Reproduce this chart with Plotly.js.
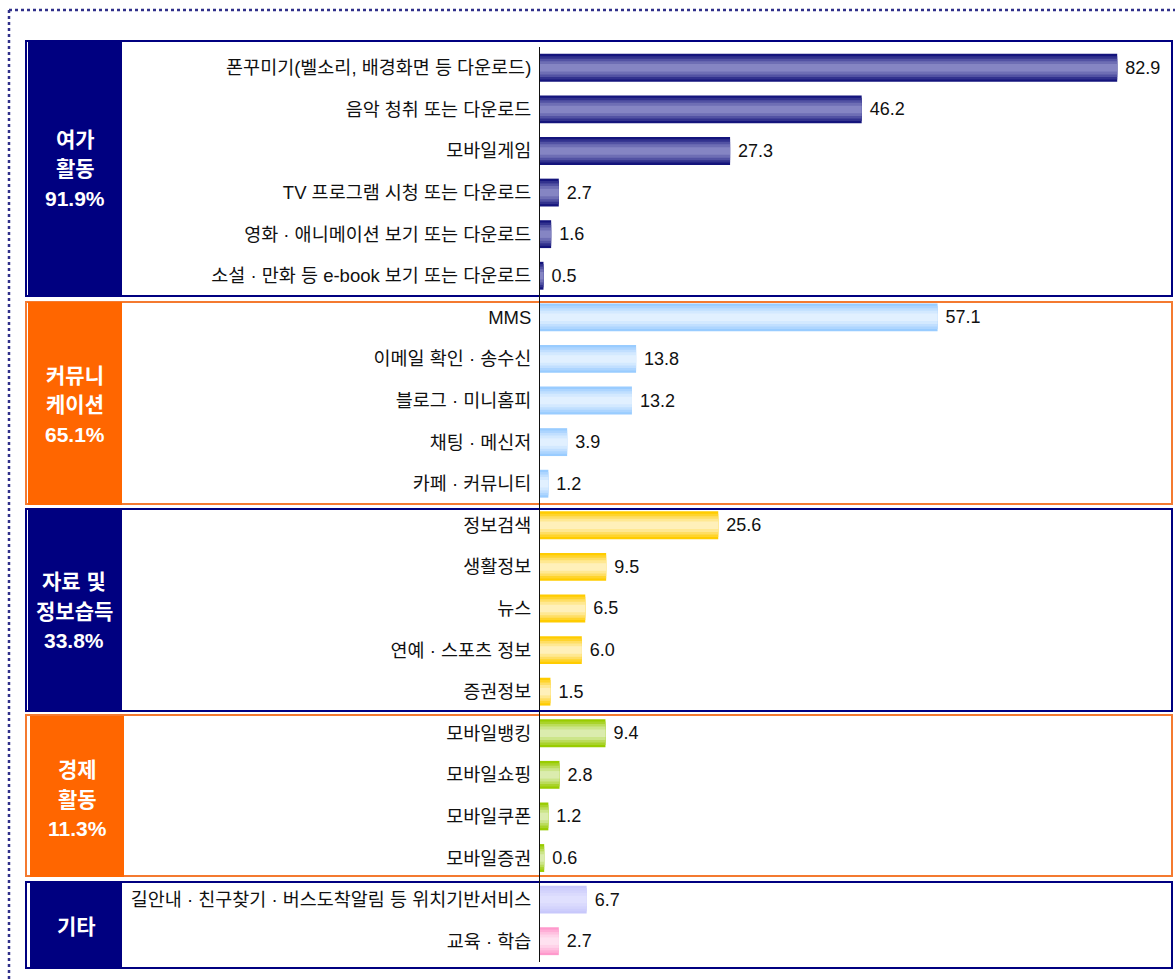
<!DOCTYPE html>
<html>
<head>
<meta charset="utf-8">
<script src="https://cdn.plot.ly/plotly-3.0.1.min.js"></script>
<style>html,body{margin:0;padding:0;background:#fff;}#chart{width:1175px;height:979px;}</style>
</head>
<body>
<div id="chart"></div>
<script>
// ---- data ----
const categories = [
  "폰꾸미기(벨소리, 배경화면 등 다운로드)",
  "음악 청취 또는 다운로드",
  "모바일게임",
  "TV 프로그램 시청 또는 다운로드",
  "영화 · 애니메이션 보기 또는 다운로드",
  "소설 · 만화 등 e-book 보기 또는 다운로드",
  "MMS",
  "이메일 확인 · 송수신",
  "블로그 · 미니홈피",
  "채팅 · 메신저",
  "카페 · 커뮤니티",
  "정보검색",
  "생활정보",
  "뉴스",
  "연예 · 스포츠 정보",
  "증권정보",
  "모바일뱅킹",
  "모바일쇼핑",
  "모바일쿠폰",
  "모바일증권",
  "길안내 · 친구찾기 · 버스도착알림 등 위치기반서비스",
  "교육 · 학습"
];
const values = [82.9, 46.2, 27.3, 2.7, 1.6, 0.5, 57.1, 13.8, 13.2, 3.9, 1.2, 25.6, 9.5, 6.5, 6.0, 1.5, 9.4, 2.8, 1.2, 0.6, 6.7, 2.7];
const groupOf = [0,0,0,0,0,0, 1,1,1,1,1, 2,2,2,2,2, 3,3,3,3, 4,4];
const groupNames = ["여가 활동", "커뮤니케이션", "자료 및 정보습득", "경제 활동", "기타"];
const groupLabelLines = [["여가","활동","91.9%"], ["커뮤니","케이션","65.1%"], ["자료 및","정보습득","33.8%"], ["경제","활동","11.3%"], ["기타"]];

// ---- styles ----
const barStyle = ["navy","navy","navy","navy","navy","navy","blue","blue","blue","blue","blue",
  "yellow","yellow","yellow","yellow","yellow","green","green","green","green","lavender","pink"];
const palettes = {
  navy:     ['#14147c','#32328e','#5252a3','#6e6eb4','#8585c3'],
  blue:     ['#99ccff','#add5ff','#c1dfff','#d3e9ff','#e1f0ff'],
  yellow:   ['#ffcc00','#ffd42c','#ffde63','#ffe892','#fff0ba'],
  green:    ['#99cc00','#a9d32a','#bbdc5a','#cce58a','#dbecae'],
  lavender: ['#c8c8fb','#cecefc','#d4d4fc','#dadafd','#e0e0fe'],
  pink:     ['#ff99cc','#ffadd6','#ffc1e0','#ffd3e9','#ffe1f0']
};
const layerWidths = [0.67, 0.56, 0.44, 0.32, 0.18];
const groupColors = ['#000080','#ff6600','#000080','#ff6600','#000080'];
const borderColors = ['#000080','#f47a30','#000080','#f47a30','#000080'];
// group frames in page pixels (decoration)
const frames = [
  {top:41, bottom:296, fx0:28, fx1:122, fy0:42, fy1:297, cx:75, cy:169},
  {top:302, bottom:504, fx0:28, fx1:122, fy0:302, fy1:505, cx:75, cy:405},
  {top:509, bottom:711, fx0:28, fx1:122, fy0:509, fy1:712, cx:74, cy:611},
  {top:715, bottom:876, fx0:30, fx1:124, fy0:716, fy1:877, cx:77, cy:799},
  {top:882, bottom:968, fx0:30, fx1:122, fy0:883, fy1:969, cx:76, cy:926}
];

const W = 1175, H = 979;
const M = {l:540, r:3, t:47, b:17};
const PW = W - M.l - M.r, PH = H - M.t - M.b;
const px = x => (x - M.l) / PW;
const py = y => 1 - (y - M.t) / PH;

const fontFam = 'Liberation Sans, "Noto Sans CJK KR", sans-serif';

const traces = layerWidths.map((w, li) => ({
  type: 'bar',
  orientation: 'h',
  y: categories,
  x: values,
  width: w,
  marker: {color: barStyle.map(s => palettes[s][li]), line: {width: 0}},
  text: li === 0 ? values.map(v => v.toFixed(1)) : undefined,
  texttemplate: li === 0 ? '\u00a0%{text}' : undefined,
  textposition: li === 0 ? 'outside' : 'none',
  textfont: {family: fontFam, size: 18, color: '#111'},
  cliponaxis: false,
  hoverinfo: 'skip',
  showlegend: false
}));

const shapes = [];
// outer dotted frame
shapes.push({type:'line', xref:'paper', yref:'paper', x0:px(9), x1:px(1175), y0:py(10), y1:py(10), line:{color:'#30308a', width:2.5, dash:'dot'}});
shapes.push({type:'line', xref:'paper', yref:'paper', x0:px(9), x1:px(9), y0:py(10), y1:py(979), line:{color:'#30308a', width:2.5, dash:'dot'}});
frames.forEach((f, i) => {
  shapes.push({type:'rect', xref:'paper', yref:'paper', x0:px(26), x1:px(1172), y0:py(f.top), y1:py(f.bottom),
    line:{color:borderColors[i], width:2}, fillcolor:'rgba(0,0,0,0)', layer:'below'});
});
frames.forEach((f, i) => {
  shapes.push({type:'rect', xref:'paper', yref:'paper', x0:px(f.fx0), x1:px(f.fx1), y0:py(f.fy0), y1:py(f.fy1),
    line:{width:0}, fillcolor:groupColors[i], layer:'above'});
});

const annotations = [];
frames.forEach((f, i) => {
  const lines = groupLabelLines[i];
  const sp = 29.5;
  lines.forEach((t, k) => {
    const y = f.cy + (k - (lines.length - 1) / 2) * sp;
    annotations.push({xref:'paper', yref:'paper', x:px(f.cx), y:py(y), xanchor:'center', yanchor:'middle',
      text:t, showarrow:false, font:{family:fontFam, size:21, color:'#fff', weight:700}});
  });
});

const layout = {
  width: W, height: H,
  margin: M,
  paper_bgcolor: '#fff',
  plot_bgcolor: 'rgba(0,0,0,0)',
  barmode: 'overlay',
  showlegend: false,
  font: {family: fontFam},
  xaxis: {range:[0, 90.77], showgrid:false, zeroline:false, showline:false, showticklabels:false, ticks:''},
  yaxis: {type:'category', autorange:'reversed', showgrid:false, zeroline:false, showline:true,
    linecolor:'#111', linewidth:1, ticks:'', ticklabelstandoff:4,
    tickfont:{family:fontFam, size:18.5, color:'#111'}},
  shapes: shapes,
  annotations: annotations
};

Plotly.newPlot('chart', traces, layout, {staticPlot:true, displayModeBar:false});
</script>
</body>
</html>
